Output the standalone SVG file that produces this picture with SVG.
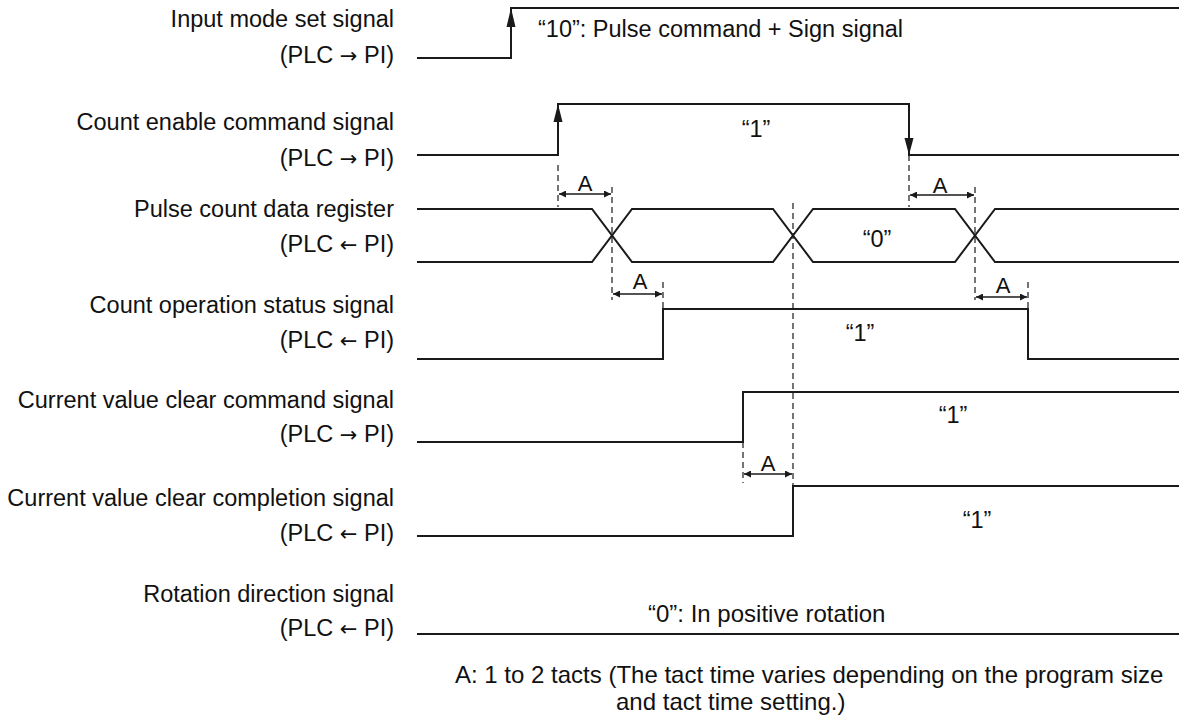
<svg xmlns="http://www.w3.org/2000/svg" width="1179" height="723" viewBox="0 0 1179 723">
<style>
text{font-family:"Liberation Sans",Arial,sans-serif;fill:#111;}
.lbl{font-size:23.5px;text-anchor:end;}
.ar{font-family:"DejaVu Sans",sans-serif;font-size:21px;}
.val{font-size:23.5px;}
.a{font-size:22px;text-anchor:middle;}
.sig{fill:none;stroke:#1a1a1a;stroke-width:2;stroke-linejoin:miter;}
.dash{fill:none;stroke:#1a1a1a;stroke-width:1.2;stroke-dasharray:6 4;}
.dim{fill:none;stroke:#1a1a1a;stroke-width:1.6;marker-start:url(#ah);marker-end:url(#ah);}
.note{font-size:24px;}
</style>
<defs>
<marker id="ah" viewBox="0 0 10 10" refX="10" refY="5" markerWidth="9" markerHeight="7" markerUnits="userSpaceOnUse" orient="auto-start-reverse">
<path d="M0,0 L10,5 L0,10 z" fill="#1a1a1a"/>
</marker>
</defs>
<g id="labels">
<g id="lbl-input-mode"><text class="lbl" x="394" y="27">Input mode set signal</text><text class="lbl" x="394" y="63">(PLC <tspan class="ar">→</tspan> PI)</text></g>
<g id="lbl-count-enable"><text class="lbl" x="394" y="130">Count enable command signal</text><text class="lbl" x="394" y="166">(PLC <tspan class="ar">→</tspan> PI)</text></g>
<g id="lbl-pulse-count"><text class="lbl" x="394" y="217">Pulse count data register</text><text class="lbl" x="394" y="252">(PLC <tspan class="ar">←</tspan> PI)</text></g>
<g id="lbl-count-status"><text class="lbl" x="394" y="313">Count operation status signal</text><text class="lbl" x="394" y="348">(PLC <tspan class="ar">←</tspan> PI)</text></g>
<g id="lbl-clear-cmd"><text class="lbl" x="394" y="408">Current value clear command signal</text><text class="lbl" x="394" y="442">(PLC <tspan class="ar">→</tspan> PI)</text></g>
<g id="lbl-clear-done"><text class="lbl" x="394" y="506">Current value clear completion signal</text><text class="lbl" x="394" y="541">(PLC <tspan class="ar">←</tspan> PI)</text></g>
<g id="lbl-rotation"><text class="lbl" x="394" y="602">Rotation direction signal</text><text class="lbl" x="394" y="636">(PLC <tspan class="ar">←</tspan> PI)</text></g>
</g>
<g id="waveforms">
<g id="w-input-mode">
<path class="sig" d="M417,58 H511 V8 H1179"/>
<path d="M511,8 L506.5,27 L515.5,27 z" fill="#1a1a1a"/>
<text class="val" x="538" y="37">“10”: Pulse command + Sign signal</text>
</g>
<g id="w-count-enable">
<path class="sig" d="M417,155 H558 V104 H909 V155 H1179"/>
<path d="M558,104 L553.5,122 L562.5,122 z" fill="#1a1a1a"/>
<path d="M909,155 L904.5,138 L913.5,138 z" fill="#1a1a1a"/>
<text class="val" x="756" y="137" text-anchor="middle">“1”</text>
</g>
<g id="w-pulse-count">
<path class="sig" d="M417,209 H592 L632,262 H773 L813,209 H955 L995,262 H1179"/>
<path class="sig" d="M417,262 H592 L632,209 H773 L813,262 H955 L995,209 H1179"/>
<text class="val" x="877" y="247" text-anchor="middle">“0”</text>
</g>
<g id="w-count-status">
<path class="sig" d="M417,359 H663 V309 H1028 V359 H1179"/>
<text class="val" x="860" y="341" text-anchor="middle">“1”</text>
</g>
<g id="w-clear-cmd">
<path class="sig" d="M417,442 H743 V392 H1179"/>
<text class="val" x="953" y="423" text-anchor="middle">“1”</text>
</g>
<g id="w-clear-done">
<path class="sig" d="M417,536 H793 V486 H1179"/>
<text class="val" x="977" y="528" text-anchor="middle">“1”</text>
</g>
<g id="w-rotation">
<path class="sig" d="M417,634 H1179"/>
<text class="note" x="648" y="622">“0”: In positive rotation</text>
</g>
</g>
<g id="connectors">
<path class="dash" d="M558,165 V207"/>
<path class="dash" d="M612,187 V300"/>
<path class="dash" d="M663,282 V309"/>
<path class="dash" d="M793,203 V486"/>
<path class="dash" d="M909,155 V207"/>
<path class="dash" d="M975,187 V300"/>
<path class="dash" d="M1028,282 V309"/>
<path class="dash" d="M743,442 V483"/>
<path class="dim" d="M559,194 H611"/>
<path class="dim" d="M613,294 H662"/>
<path class="dim" d="M910,195 H974"/>
<path class="dim" d="M976,297 H1027"/>
<path class="dim" d="M744,474 H792"/>
<text class="a" x="585" y="191">A</text>
<text class="a" x="640" y="289">A</text>
<text class="a" x="940" y="193">A</text>
<text class="a" x="1003" y="293">A</text>
<text class="a" x="768" y="471">A</text>
</g>
<g id="note">
<text class="note" x="455" y="683">A: 1 to 2 tacts (The tact time varies depending on the program size</text>
<text class="note" x="616" y="710">and tact time setting.)</text>
</g>
</svg>
